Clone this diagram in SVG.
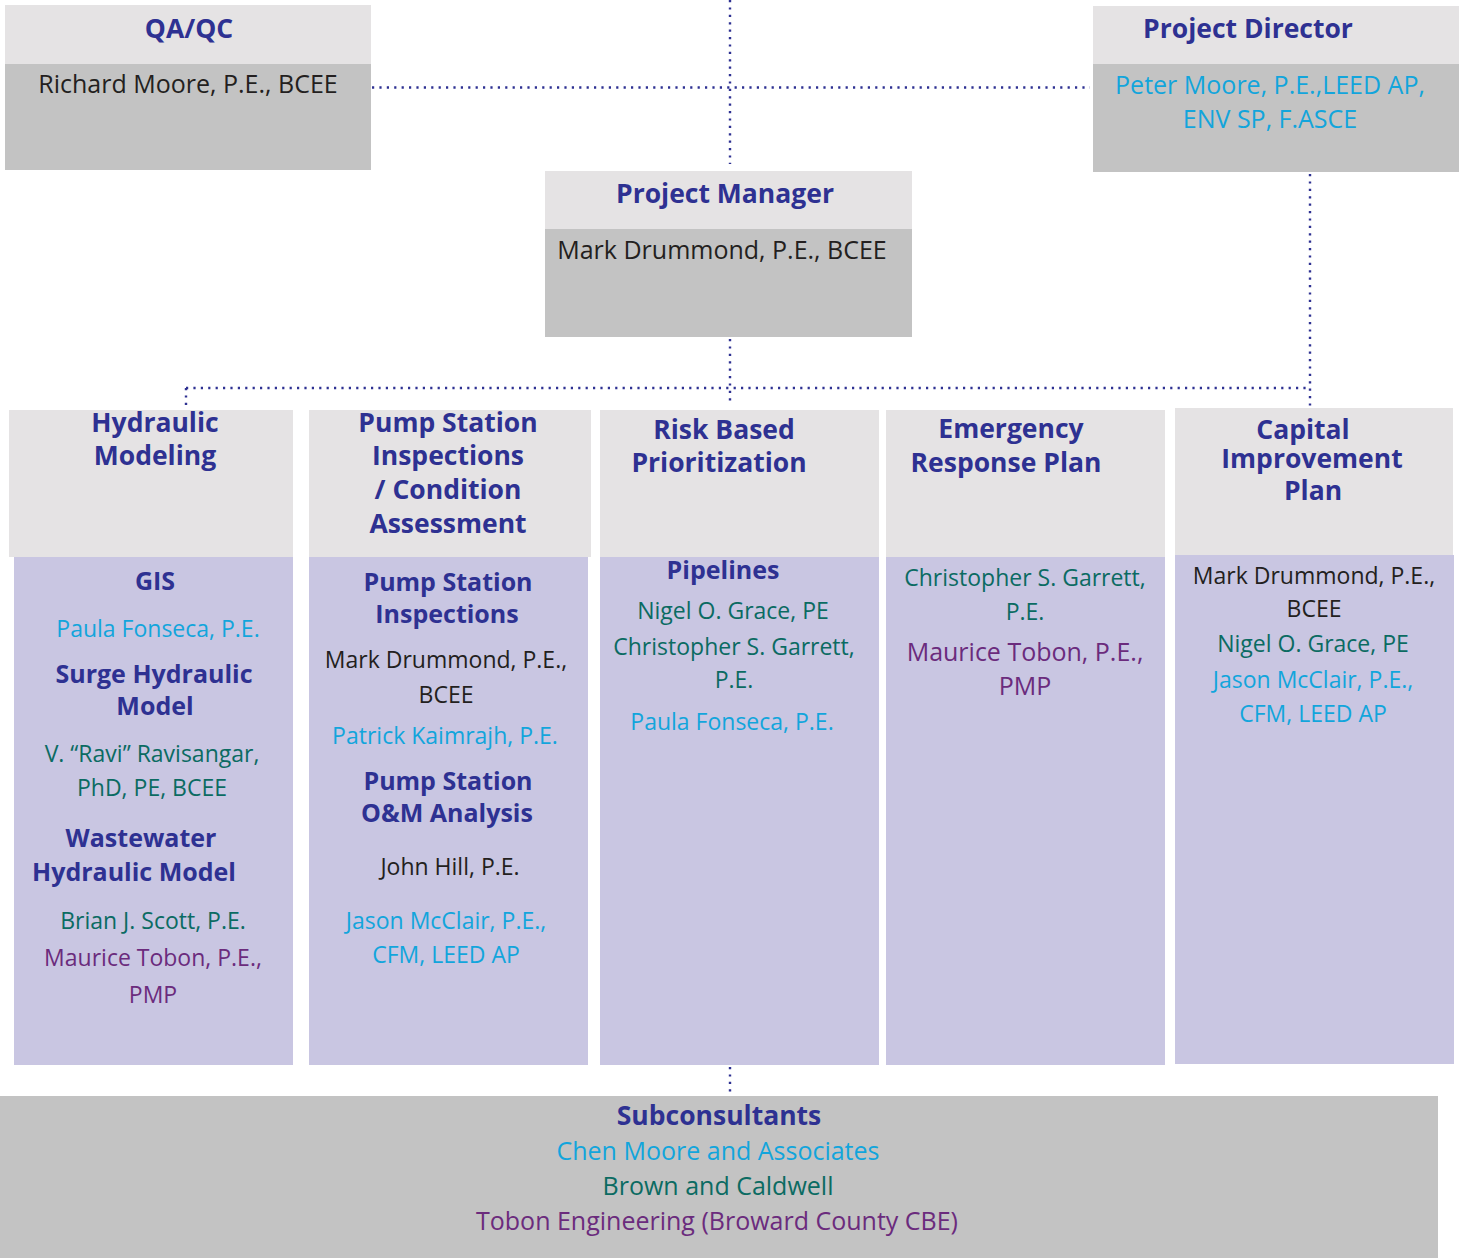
<svg xmlns="http://www.w3.org/2000/svg" width="1460" height="1258" viewBox="0 0 1460 1258">
<style>
.hd{fill:#e5e3e4}
.bd{fill:#c3c3c3}
.pb{fill:#c9c6e2}
text{font-family:"Open Sans","Noto Sans","Liberation Sans",sans-serif;text-anchor:middle}
.t{font-weight:bold;font-size:26.5px;fill:#2e3192}
.s{font-weight:bold;font-size:25px;fill:#2e3192}
.n{font-size:23px}
.m{font-size:25px}
.k{fill:#231f20}
.c{fill:#12a5dc}
.g{fill:#0b6b62}
.p{fill:#6b2b7d}
.ln{fill:none;stroke:#2e3192;stroke-width:2.4;stroke-dasharray:2.2 5.2}
</style>
<rect width="1460" height="1258" fill="#ffffff"/>
<g id="connectors">
<line class="ln" x1="730" y1="0" x2="730" y2="164"/>
<line class="ln" x1="372" y1="87.5" x2="1090" y2="87.5"/>
<line class="ln" x1="730" y1="339" x2="730" y2="405"/>
<line class="ln" x1="186" y1="388" x2="1310" y2="388"/>
<line class="ln" x1="186" y1="388" x2="186" y2="408"/>
<line class="ln" x1="1310" y1="174" x2="1310" y2="407"/>
<line class="ln" x1="730" y1="1067" x2="730" y2="1092"/>
</g>
<g id="qaqc">
<rect class="hd" x="5" y="5" width="366" height="59"/>
<rect class="bd" x="5" y="64" width="366" height="106"/>
<text class="t" x="189" y="38">QA/QC</text>
<text class="m k" x="188" y="93">Richard Moore, P.E., BCEE</text>
</g>
<g id="project-director">
<rect class="hd" x="1093" y="6" width="366" height="58"/>
<rect class="bd" x="1093" y="64" width="366" height="108"/>
<text class="t" x="1248" y="38">Project Director</text>
<text class="m c" x="1270" y="94">Peter Moore, P.E.,LEED AP,</text>
<text class="m c" x="1270" y="128">ENV SP, F.ASCE</text>
</g>
<g id="project-manager">
<rect class="hd" x="545" y="171" width="367" height="58"/>
<rect class="bd" x="545" y="229" width="367" height="108"/>
<text class="t" x="725" y="203">Project Manager</text>
<text class="m k" x="722" y="259">Mark Drummond, P.E., BCEE</text>
</g>
<g id="hydraulic-modeling">
<rect class="hd" x="9" y="410" width="284" height="147"/>
<rect class="pb" x="14" y="557" width="279" height="508"/>
<text class="t" x="155" y="432">Hydraulic</text>
<text class="t" x="155" y="465">Modeling</text>
<text class="s" x="155" y="590">GIS</text>
<text class="n c" x="158" y="637">Paula Fonseca, P.E.</text>
<text class="s" x="154" y="683">Surge Hydraulic</text>
<text class="s" x="155" y="715">Model</text>
<text class="n g" x="152" y="762">V. “Ravi” Ravisangar,</text>
<text class="n g" x="152" y="796">PhD, PE, BCEE</text>
<text class="s" x="141" y="847">Wastewater</text>
<text class="s" x="134" y="881">Hydraulic Model</text>
<text class="n g" x="153" y="929">Brian J. Scott, P.E.</text>
<text class="n p" x="153" y="966">Maurice Tobon, P.E.,</text>
<text class="n p" x="153" y="1003">PMP</text>
</g>
<g id="pump-station">
<rect class="hd" x="309" y="410" width="282" height="147"/>
<rect class="pb" x="309" y="557" width="279" height="508"/>
<text class="t" x="448" y="432">Pump Station</text>
<text class="t" x="448" y="465">Inspections</text>
<text class="t" x="448" y="499">/ Condition</text>
<text class="t" x="448" y="533">Assessment</text>
<text class="s" x="448" y="591">Pump Station</text>
<text class="s" x="447" y="623">Inspections</text>
<text class="n k" x="446" y="668">Mark Drummond, P.E.,</text>
<text class="n k" x="446" y="703">BCEE</text>
<text class="n c" x="445" y="744">Patrick Kaimrajh, P.E.</text>
<text class="s" x="448" y="790">Pump Station</text>
<text class="s" x="447" y="822">O&amp;M Analysis</text>
<text class="n k" x="450" y="875">John Hill, P.E.</text>
<text class="n c" x="446" y="929">Jason McClair, P.E.,</text>
<text class="n c" x="446" y="963">CFM, LEED AP</text>
</g>
<g id="risk-based">
<rect class="hd" x="600" y="410" width="279" height="147"/>
<rect class="pb" x="600" y="557" width="279" height="508"/>
<text class="t" x="724" y="439">Risk Based</text>
<text class="t" x="719" y="472">Prioritization</text>
<text class="s" x="723" y="579">Pipelines</text>
<text class="n g" x="733" y="619">Nigel O. Grace, PE</text>
<text class="n g" x="734" y="655">Christopher S. Garrett,</text>
<text class="n g" x="734" y="688">P.E.</text>
<text class="n c" x="732" y="730">Paula Fonseca, P.E.</text>
</g>
<g id="emergency-response">
<rect class="hd" x="886" y="410" width="279" height="147"/>
<rect class="pb" x="886" y="557" width="279" height="508"/>
<text class="t" x="1011" y="438">Emergency</text>
<text class="t" x="1006" y="472">Response Plan</text>
<text class="n g" x="1025" y="586">Christopher S. Garrett,</text>
<text class="n g" x="1025" y="620">P.E.</text>
<text class="m p" x="1025" y="661">Maurice Tobon, P.E.,</text>
<text class="m p" x="1025" y="695">PMP</text>
</g>
<g id="capital-improvement">
<rect class="hd" x="1175" y="408" width="278" height="147"/>
<rect class="pb" x="1175" y="555" width="279" height="509"/>
<text class="t" x="1303" y="439">Capital</text>
<text class="t" x="1312" y="468">Improvement</text>
<text class="t" x="1313" y="500">Plan</text>
<text class="n k" x="1314" y="584">Mark Drummond, P.E.,</text>
<text class="n k" x="1314" y="617">BCEE</text>
<text class="n g" x="1313" y="652">Nigel O. Grace, PE</text>
<text class="n c" x="1313" y="688">Jason McClair, P.E.,</text>
<text class="n c" x="1313" y="722">CFM, LEED AP</text>
</g>
<g id="subconsultants">
<rect class="bd" x="0" y="1096" width="1438" height="162"/>
<text class="t" x="719" y="1125">Subconsultants</text>
<text class="m c" x="718" y="1160">Chen Moore and Associates</text>
<text class="m g" x="718" y="1195">Brown and Caldwell</text>
<text class="m p" x="717" y="1230">Tobon Engineering (Broward County CBE)</text>
</g>
</svg>
